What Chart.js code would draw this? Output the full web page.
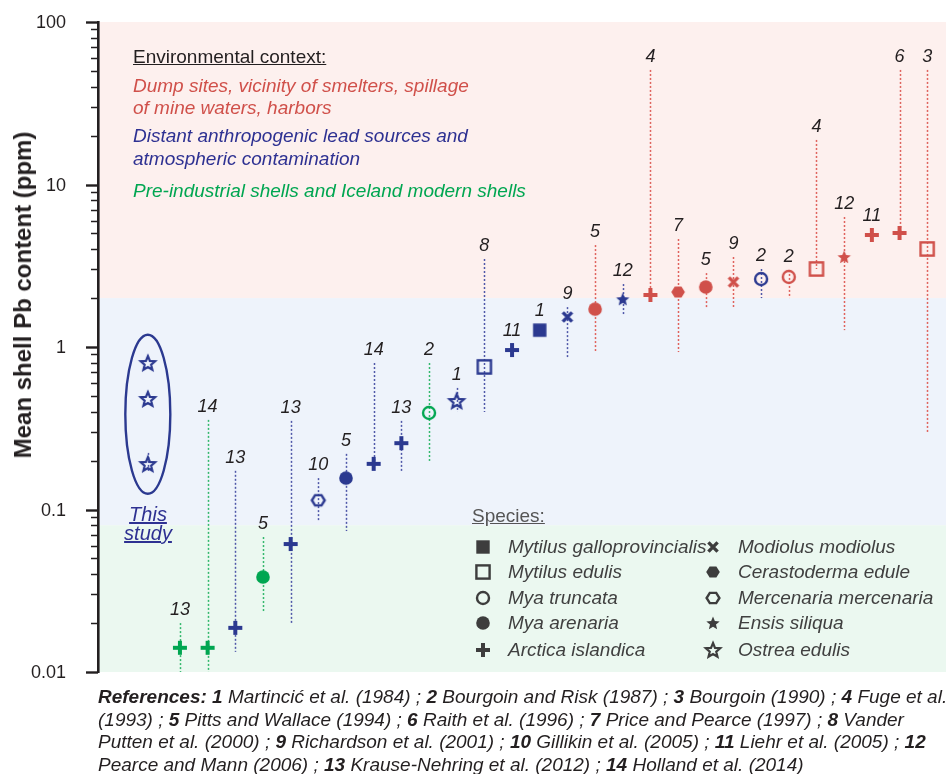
<!DOCTYPE html>
<html>
<head>
<meta charset="utf-8">
<script src="https://cdn.jsdelivr.net/npm/chart.js@4.4.1/dist/chart.umd.min.js"></script>
<style>
  html, body { margin: 0; padding: 0; background: #fff; }
  #wrap { position: relative; width: 946px; height: 774px; overflow: hidden;
          font-family: "Liberation Sans", Arial, sans-serif; color: #231f20; }
  #chartBox { position: absolute; left: 0; top: 0; width: 946px; height: 690px; }
  .t { position: absolute; white-space: nowrap; line-height: 24px; }
  #ytitle { position: absolute; left: 23px; top: 295px; white-space: nowrap;
            font-weight: bold; font-size: 24px; line-height: 28px;
            transform: translate(-50%, -50%) rotate(-90deg); }
  .ctx { font-size: 19px; font-style: italic; }
  .red { color: #d0504a; } .blue { color: #2e3192; } .green { color: #00a651; }
  .sp { font-size: 19px; font-style: italic; color: #404040; }
  #study { position: absolute; left: 148px; top: 505px; transform: translateX(-50%);
           text-align: center; font-size: 20px; font-style: italic; line-height: 19px;
           color: #2e3192; text-decoration: underline; }
  #refs { position: absolute; left: 98px; top: 686px; font-size: 19px; line-height: 22.7px;
          font-style: italic; white-space: nowrap;
          font-family: "Liberation Sans Narrow", "Arial Narrow", "Liberation Sans", sans-serif; }
  #refs b { font-weight: bold; }
  .mk { position: absolute; }
</style>
</head>
<body>
<div id="wrap">
  <div id="chartBox"><canvas id="c" width="946" height="690"></canvas></div>
  <div id="ytitle">Mean shell Pb content (ppm)</div>

  <div class="t ctx" style="left:133px;top:45px;font-style:normal;text-decoration:underline;">Environmental context:</div>
  <div class="t ctx red" style="left:133px;top:74px;">Dump sites, vicinity of smelters, spillage</div>
  <div class="t ctx red" style="left:133px;top:96px;">of mine waters, harbors</div>
  <div class="t ctx blue" style="left:133px;top:124px;">Distant anthropogenic lead sources and</div>
  <div class="t ctx blue" style="left:133px;top:147px;">atmospheric contamination</div>
  <div class="t ctx green" style="left:133px;top:179px;">Pre-industrial shells and Iceland modern shells</div>

  <div id="study">This<br>study</div>

  <div class="t sp" style="left:472px;top:504px;font-style:normal;color:#555;text-decoration:underline;">Species:</div>
  <div id="legend"></div>

  <div id="refs"><b>References: 1</b> Martincić et al. (1984) ; <b>2</b> Bourgoin and Risk (1987) ; <b>3</b> Bourgoin (1990) ; <b>4</b> Fuge et al.<br>(1993) ; <b>5</b> Pitts and Wallace (1994) ; <b>6</b> Raith et al. (1996) ; <b>7</b> Price and Pearce (1997) ; <b>8</b> Vander<br>Putten et al. (2000) ; <b>9</b> Richardson et al. (2001) ; <b>10</b> Gillikin et al. (2005) ; <b>11</b> Liehr et al. (2005) ; <b>12</b><br>Pearce and Mann (2006) ; <b>13</b> Krause-Nehring et al. (2012) ; <b>14</b> Holland et al. (2014)</div>
</div>

<script>
// ---- Published records, sorted by mean shell Pb (ppm) ----
const refNumbers = [13, 14, 13, 5, 13, 10, 5, 14, 13, 2, 1, 8, 11, 1, 9, 5, 12, 4, 7, 5, 9, 2, 2, 4, 12, 11, 6, 3];
const species = ['arctica', 'arctica', 'arctica', 'myaAren', 'arctica', 'mercenaria', 'myaAren', 'arctica',
                 'arctica', 'myaTrunc', 'ostrea', 'mytEdulis', 'arctica', 'mytGallo', 'modiolus', 'myaAren',
                 'ensis', 'arctica', 'cerasto', 'myaAren', 'modiolus', 'myaTrunc', 'myaTrunc', 'mytEdulis',
                 'ensis', 'arctica', 'arctica', 'mytEdulis'];
const context = ['pre', 'pre', 'distant', 'pre', 'distant', 'distant', 'distant', 'distant',
                 'distant', 'pre', 'distant', 'distant', 'distant', 'distant', 'distant', 'local',
                 'distant', 'local', 'local', 'local', 'local', 'distant', 'local', 'local',
                 'local', 'local', 'local', 'local'];
const meanPb = [0.0141, 0.0141, 0.0187, 0.0384, 0.0613, 0.114, 0.156, 0.191, 0.256, 0.393, 0.465, 0.754,
                0.958, 1.27, 1.53, 1.71, 1.97, 2.09, 2.18, 2.34, 2.51, 2.62, 2.70, 3.02, 3.58, 4.89, 5.03, 4.01];
const rangeHigh = [0.020, 0.356, 0.173, 0.0677, 0.351, 0.156, 0.220, 0.797, 0.351, 0.797, 0.560, 3.48,
                   null, null, 1.76, 4.24, 2.44, 50.7, 4.62, 2.85, 3.58, 3.02, 2.98, 18.8, 6.31, null, 50.7, 50.7];
const rangeLow = [0.008, 0.008, 0.0133, 0.0237, 0.0200, 0.0838, 0.0737, null, 0.168, 0.199, 0.398, 0.398,
                  null, null, 0.867, 0.945, 1.55, null, 0.931, 1.74, 1.74, 2.0, 2.0, null, 1.27, null, null, 0.300];

// ---- This study (Ostrea edulis) ----
const thisStudyPb = [0.797, 0.479, 0.1905];
const thisStudyHigh = [null, null, 0.223];
const thisStudyLow = [null, null, 0.168];
const thisStudyX = -1.16;
const thisStudyOutline = [1.19, 0.125];   // ellipse extent, ppm

// ---- Y axis ticks and context bands ----
const yMin = 0.01, yMax = 100;
const yTickLabels = ['0.01', '0.1', '1', '10', '100'];
const bandLimits = [2, 0.08];  // local / distant / pre-industrial boundaries, ppm

const palette = { local: '#d0504a', distant: '#2b3990', pre: '#00a651' };
const barPalette = { local: '#e0625c', distant: '#4f57a8', pre: '#33b86c' };
const bandPalette = ['#fdf0ee', '#eef3fb', '#ebf8f0'];

const speciesInfo = {
  mytGallo:   { name: 'Mytilus galloprovincialis', shape: 'square',  filled: true },
  mytEdulis:  { name: 'Mytilus edulis',            shape: 'square',  filled: false },
  myaTrunc:   { name: 'Mya truncata',              shape: 'circle',  filled: false },
  myaAren:    { name: 'Mya arenaria',              shape: 'circle',  filled: true },
  arctica:    { name: 'Arctica islandica',         shape: 'plus',    filled: true },
  modiolus:   { name: 'Modiolus modiolus',         shape: 'cross',   filled: true },
  cerasto:    { name: 'Cerastoderma edule',        shape: 'hexagon', filled: true },
  mercenaria: { name: 'Mercenaria mercenaria',     shape: 'hexagon', filled: false },
  ensis:      { name: 'Ensis siliqua',             shape: 'star',    filled: true },
  ostrea:     { name: 'Ostrea edulis',             shape: 'star',    filled: false }
};
const legendColumns = [
  ['mytGallo', 'mytEdulis', 'myaTrunc', 'myaAren', 'arctica'],
  ['modiolus', 'cerasto', 'mercenaria', 'ensis', 'ostrea']
];

// Marker sprites used as point styles
function makeMarker(shape, color, filled) {
  const S = 22;
  const c = document.createElement('canvas');
  c.width = S; c.height = S;
  const g = c.getContext('2d');
  g.translate(S / 2, S / 2);
  g.fillStyle = color; g.strokeStyle = color; g.lineWidth = 2.4;
  const poly = (pts) => { g.beginPath(); pts.forEach((p, i) => i ? g.lineTo(p[0], p[1]) : g.moveTo(p[0], p[1])); g.closePath(); };
  if (shape === 'square') {
    if (filled) g.fillRect(-6.7, -6.7, 13.4, 13.4);
    else g.strokeRect(-6.6, -6.6, 13.2, 13.2);
  } else if (shape === 'circle') {
    g.beginPath();
    if (filled) { g.arc(0, 0, 6.8, 0, Math.PI * 2); g.fill(); }
    else { g.arc(0, 0, 6, 0, Math.PI * 2); g.stroke(); }
  } else if (shape === 'plus') {
    g.fillRect(-7, -2, 14, 4);
    g.fillRect(-2, -7, 4, 14);
  } else if (shape === 'cross') {
    g.lineWidth = 3.4;
    g.beginPath();
    g.moveTo(-4.6, -4.6); g.lineTo(4.6, 4.6);
    g.moveTo(4.6, -4.6); g.lineTo(-4.6, 4.6);
    g.stroke();
  } else if (shape === 'hexagon') {
    const r = filled ? 6.8 : 6.4;
    const pts = [];
    for (let k = 0; k < 6; k++) { const a = k * Math.PI / 3; pts.push([r * Math.cos(a), r * Math.sin(a) * 0.92]); }
    poly(pts);
    if (filled) g.fill(); else g.stroke();
  } else if (shape === 'star') {
    const R = filled ? 7 : 7.6, r = R * 0.45;
    const pts = [];
    for (let k = 0; k < 10; k++) {
      const a = -Math.PI / 2 + k * Math.PI / 5;
      const rr = k % 2 ? r : R;
      pts.push([rr * Math.cos(a), rr * Math.sin(a) + 0.6]);
    }
    poly(pts);
    if (filled) g.fill(); else { g.lineWidth = 2.2; g.lineJoin = 'miter'; g.stroke(); }
  }
  return c;
}

const recordStyles = species.map((s, i) => makeMarker(speciesInfo[s].shape, palette[context[i]], speciesInfo[s].filled));
const studyStyle = makeMarker('star', palette.distant, false);

// Species legend
const legendEl = document.getElementById('legend');
const legendColX = [[483, 508], [713, 738]];
const legendRowY = [547, 572, 598, 623, 650];
legendColumns.forEach((col, ci) => {
  col.forEach((key, ri) => {
    const info = speciesInfo[key];
    const m = makeMarker(info.shape, '#3d3d3d', info.filled);
    m.className = 'mk';
    m.style.left = (legendColX[ci][0] - 11) + 'px';
    m.style.top = (legendRowY[ri] - 11) + 'px';
    legendEl.appendChild(m);
    const t = document.createElement('div');
    t.className = 't sp';
    t.style.left = legendColX[ci][1] + 'px';
    t.style.top = (legendRowY[ri] - 12) + 'px';
    t.textContent = info.name;
    legendEl.appendChild(t);
  });
});

const decorPlugin = {
  id: 'decor',
  beforeDraw(chart) {
    const { ctx, chartArea: a, scales: { y } } = chart;
    const edges = [a.top, y.getPixelForValue(bandLimits[0]), y.getPixelForValue(bandLimits[1]), a.bottom];
    ctx.save();
    for (let k = 0; k < 3; k++) {
      ctx.fillStyle = bandPalette[k];
      ctx.fillRect(a.left + 1, edges[k], a.right - a.left - 1, edges[k + 1] - edges[k]);
    }
    ctx.restore();
  },
  beforeDatasetsDraw(chart) {
    const { ctx, chartArea: a, scales: { x, y } } = chart;
    ctx.save();
    ctx.beginPath(); ctx.rect(a.left, a.top, a.right - a.left, a.bottom - a.top); ctx.clip();
    ctx.lineWidth = 1.5;
    ctx.setLineDash([2, 2]);
    const bar = (xv, mid, hi, lo, col) => {
      if (hi == null && lo == null) return;
      const px = Math.round(x.getPixelForValue(xv)) + 0.5;
      const y1 = y.getPixelForValue(hi != null ? hi : mid);
      const y2 = y.getPixelForValue(lo != null ? lo : mid);
      ctx.strokeStyle = col;
      ctx.beginPath(); ctx.moveTo(px, y1); ctx.lineTo(px, y2); ctx.stroke();
    };
    meanPb.forEach((v, i) => bar(i, v, rangeHigh[i], rangeLow[i], barPalette[context[i]]));
    thisStudyPb.forEach((v, i) => bar(thisStudyX, v, thisStudyHigh[i], thisStudyLow[i], barPalette.distant));
    ctx.restore();
  },
  afterDatasetsDraw(chart) {
    const { ctx, scales: { x, y } } = chart;
    ctx.save();
    // reference numbers above each record
    ctx.font = 'italic 18px "Liberation Sans", Arial, sans-serif';
    ctx.fillStyle = '#231f20';
    ctx.textAlign = 'center';
    ctx.textBaseline = 'middle';
    meanPb.forEach((v, i) => {
      const top = rangeHigh[i] != null ? y.getPixelForValue(rangeHigh[i]) - 13 : y.getPixelForValue(v) - 19;
      ctx.fillText(String(refNumbers[i]), x.getPixelForValue(i), top);
    });
    // outline grouping the samples of this study
    const cx = x.getPixelForValue(thisStudyX);
    const yT = y.getPixelForValue(thisStudyOutline[0]);
    const yB = y.getPixelForValue(thisStudyOutline[1]);
    ctx.strokeStyle = palette.distant;
    ctx.lineWidth = 2.4;
    ctx.beginPath();
    ctx.ellipse(cx, (yT + yB) / 2, 22.5, (yB - yT) / 2, 0, 0, Math.PI * 2);
    ctx.stroke();
    ctx.restore();
  },
  afterDraw(chart) {
    // log-axis tick marks (long at decades) and decade labels
    const { ctx, chartArea: a, scales: { y } } = chart;
    ctx.save();
    ctx.strokeStyle = '#231f20';
    ctx.fillStyle = '#231f20';
    ctx.font = '18px "Liberation Sans", Arial, sans-serif';
    ctx.textAlign = 'right';
    ctx.textBaseline = 'middle';
    for (let e = -2; e <= 2; e++) {
      for (let m = 1; m <= 9; m++) {
        const v = m * Math.pow(10, e);
        if (v > yMax * 1.0001) break;
        const py = Math.round(y.getPixelForValue(v)) + 0.5;
        const major = m === 1;
        ctx.lineWidth = major ? 2.4 : 1.5;
        ctx.beginPath();
        ctx.moveTo(a.left - (major ? 12 : 7), py);
        ctx.lineTo(a.left, py);
        ctx.stroke();
        if (major) ctx.fillText(yTickLabels[e + 2], a.left - 32, py + 1);
      }
    }
    ctx.restore();
  }
};

new Chart(document.getElementById('c'), {
  type: 'scatter',
  data: {
    datasets: [
      {
        label: 'Published records',
        data: meanPb.map((v, i) => ({ x: i, y: v })),
        pointStyle: recordStyles,
        pointRadius: 8
      },
      {
        label: 'This study',
        data: thisStudyPb.map(v => ({ x: thisStudyX, y: v })),
        pointStyle: studyStyle,
        pointRadius: 8
      }
    ]
  },
  options: {
    responsive: false,
    animation: false,
    devicePixelRatio: 1,
    layout: { autoPadding: false, padding: { top: 22, bottom: 18, left: 0, right: 0 } },
    plugins: { legend: { display: false }, tooltip: { enabled: false } },
    scales: {
      x: { type: 'linear', min: -2.96, max: 27.68, display: false },
      y: {
        type: 'logarithmic',
        min: yMin,
        max: yMax,
        position: 'left',
        afterFit(scale) { scale.width = 98; },
        grid: { display: false, drawTicks: false },
        border: { display: true, color: '#231f20', width: 2.6 },
        ticks: { display: false }
      }
    }
  },
  plugins: [decorPlugin]
});
</script>
</body>
</html>
